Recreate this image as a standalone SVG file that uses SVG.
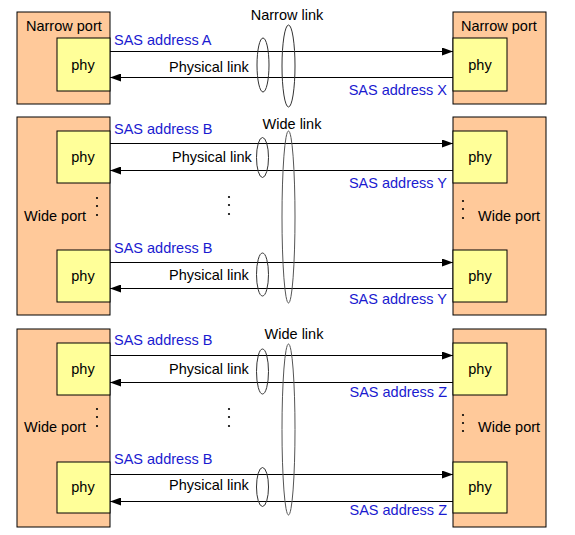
<svg xmlns="http://www.w3.org/2000/svg" width="575" height="535" viewBox="0 0 575 535">
<style>
.port{fill:#FFC99A;stroke:#000;stroke-width:1}
.phy{fill:#FFFF99;stroke:#000;stroke-width:1}
text{font-family:"Liberation Sans",Arial,sans-serif;font-size:14.5px;fill:#000}
.blue{fill:#1A1AD0}
.mid{text-anchor:middle}
.end{text-anchor:end}
.ln{stroke:#000;stroke-width:1;fill:none}
.el{fill:none;stroke:#333;stroke-width:1}
.el2{fill:none;stroke:#555;stroke-width:1}
.dot{fill:#000}
</style>
<defs>
<marker id="ah" markerWidth="11" markerHeight="8" refX="11" refY="4" orient="auto" markerUnits="userSpaceOnUse">
<path d="M0,0 L11,4 L0,8 Z" fill="#000"/>
</marker>
</defs>
<rect width="575" height="535" fill="#fff"/>

<!-- Panel 1 -->
<g id="p1-left-port">
<rect class="port" x="17" y="12" width="93" height="92"/>
<text x="26" y="31">Narrow port</text>
</g>
<g id="p1-left-phy">
<rect class="phy" x="57" y="38" width="53" height="53"/>
<text class="mid" x="83" y="70">phy</text>
</g>
<g id="p1-right-port">
<rect class="port" x="453" y="12" width="93" height="92"/>
<text x="461" y="31">Narrow port</text>
</g>
<g id="p1-right-phy">
<rect class="phy" x="453" y="38" width="54" height="53"/>
<text class="mid" x="480" y="70">phy</text>
</g>

<!-- Panel 2 -->
<g id="p2-left-port">
<rect class="port" x="17" y="117" width="93" height="198"/>
<text x="24" y="221">Wide port</text>
<circle class="dot" cx="97" cy="198" r="1.1"/><circle class="dot" cx="97" cy="206" r="1.1"/><circle class="dot" cx="97" cy="215" r="1.1"/>
</g>
<g id="p2-left-phy1">
<rect class="phy" x="57" y="131" width="53" height="52"/>
<text class="mid" x="83" y="162">phy</text>
</g>
<g id="p2-left-phy2">
<rect class="phy" x="57" y="250" width="53" height="52"/>
<text class="mid" x="83" y="281">phy</text>
</g>
<g id="p2-right-port">
<rect class="port" x="453" y="117" width="93" height="198"/>
<text x="478" y="221">Wide port</text>
<circle class="dot" cx="463" cy="201" r="1.1"/><circle class="dot" cx="463" cy="209" r="1.1"/><circle class="dot" cx="463" cy="218" r="1.1"/>
</g>
<g id="p2-right-phy1">
<rect class="phy" x="453" y="131" width="54" height="52"/>
<text class="mid" x="480" y="162">phy</text>
</g>
<g id="p2-right-phy2">
<rect class="phy" x="453" y="250" width="54" height="52"/>
<text class="mid" x="480" y="281">phy</text>
</g>

<!-- Panel 3 -->
<g id="p3-left-port">
<rect class="port" x="17" y="329" width="93" height="198"/>
<text x="24" y="432">Wide port</text>
<circle class="dot" cx="97" cy="409" r="1.1"/><circle class="dot" cx="97" cy="417" r="1.1"/><circle class="dot" cx="97" cy="426" r="1.1"/>
</g>
<g id="p3-left-phy1">
<rect class="phy" x="57" y="343" width="53" height="52"/>
<text class="mid" x="83" y="374">phy</text>
</g>
<g id="p3-left-phy2">
<rect class="phy" x="57" y="462" width="53" height="51"/>
<text class="mid" x="83" y="492">phy</text>
</g>
<g id="p3-right-port">
<rect class="port" x="453" y="329" width="93" height="198"/>
<text x="478" y="432">Wide port</text>
<circle class="dot" cx="463" cy="415" r="1.1"/><circle class="dot" cx="463" cy="423" r="1.1"/><circle class="dot" cx="463" cy="431" r="1.1"/>
</g>
<g id="p3-right-phy1">
<rect class="phy" x="453" y="343" width="54" height="52"/>
<text class="mid" x="480" y="374">phy</text>
</g>
<g id="p3-right-phy2">
<rect class="phy" x="453" y="462" width="54" height="51"/>
<text class="mid" x="480" y="492">phy</text>
</g>

<!-- Connectors -->
<g id="connectors">
<line class="ln" x1="110" y1="51.5" x2="453" y2="51.5" marker-end="url(#ah)"/>
<line class="ln" x1="453" y1="77.5" x2="110" y2="77.5" marker-end="url(#ah)"/>
<line class="ln" x1="110" y1="143.5" x2="453" y2="143.5" marker-end="url(#ah)"/>
<line class="ln" x1="453" y1="170.5" x2="110" y2="170.5" marker-end="url(#ah)"/>
<line class="ln" x1="110" y1="262.5" x2="453" y2="262.5" marker-end="url(#ah)"/>
<line class="ln" x1="453" y1="288.5" x2="110" y2="288.5" marker-end="url(#ah)"/>
<line class="ln" x1="110" y1="355.5" x2="453" y2="355.5" marker-end="url(#ah)"/>
<line class="ln" x1="453" y1="382.5" x2="110" y2="382.5" marker-end="url(#ah)"/>
<line class="ln" x1="110" y1="474.5" x2="453" y2="474.5" marker-end="url(#ah)"/>
<line class="ln" x1="453" y1="501.5" x2="110" y2="501.5" marker-end="url(#ah)"/>
</g>

<!-- Link ellipses -->
<g id="links">
<ellipse class="el" cx="263" cy="65" rx="6" ry="27"/>
<ellipse class="el" cx="288.5" cy="66" rx="6.5" ry="41"/>
<ellipse class="el" cx="262.5" cy="157.5" rx="6" ry="20"/>
<ellipse class="el" cx="262.5" cy="274.5" rx="6" ry="21.5"/>
<ellipse class="el2" cx="288.5" cy="217" rx="6.5" ry="86"/>
<ellipse class="el" cx="262.5" cy="371.5" rx="6" ry="22.5"/>
<ellipse class="el" cx="262.5" cy="487" rx="6" ry="19.5"/>
<ellipse class="el2" cx="288.5" cy="429.5" rx="6.5" ry="85.5"/>
</g>

<!-- Labels -->
<g id="labels">
<text class="mid" x="287" y="20">Narrow link</text>
<text class="blue" x="114" y="45">SAS address A</text>
<text x="169" y="72">Physical link</text>
<text class="blue end" x="447" y="95">SAS address X</text>

<text class="mid" x="292" y="129">Wide link</text>
<text class="blue" x="114" y="134">SAS address B</text>
<text x="172" y="162">Physical link</text>
<text class="blue end" x="447" y="188">SAS address Y</text>
<circle class="dot" cx="229" cy="197" r="1.1"/><circle class="dot" cx="229" cy="205" r="1.1"/><circle class="dot" cx="229" cy="214" r="1.1"/>
<text class="blue" x="114" y="253">SAS address B</text>
<text x="169" y="280">Physical link</text>
<text class="blue end" x="447" y="304">SAS address Y</text>

<text class="mid" x="294" y="339">Wide link</text>
<text class="blue" x="114" y="345">SAS address B</text>
<text x="169" y="374">Physical link</text>
<text class="blue end" x="447" y="397">SAS address Z</text>
<circle class="dot" cx="229" cy="409" r="1.1"/><circle class="dot" cx="229" cy="417" r="1.1"/><circle class="dot" cx="229" cy="426" r="1.1"/>
<text class="blue" x="114" y="464">SAS address B</text>
<text x="169" y="490">Physical link</text>
<text class="blue end" x="447" y="515">SAS address Z</text>
</g>
</svg>
